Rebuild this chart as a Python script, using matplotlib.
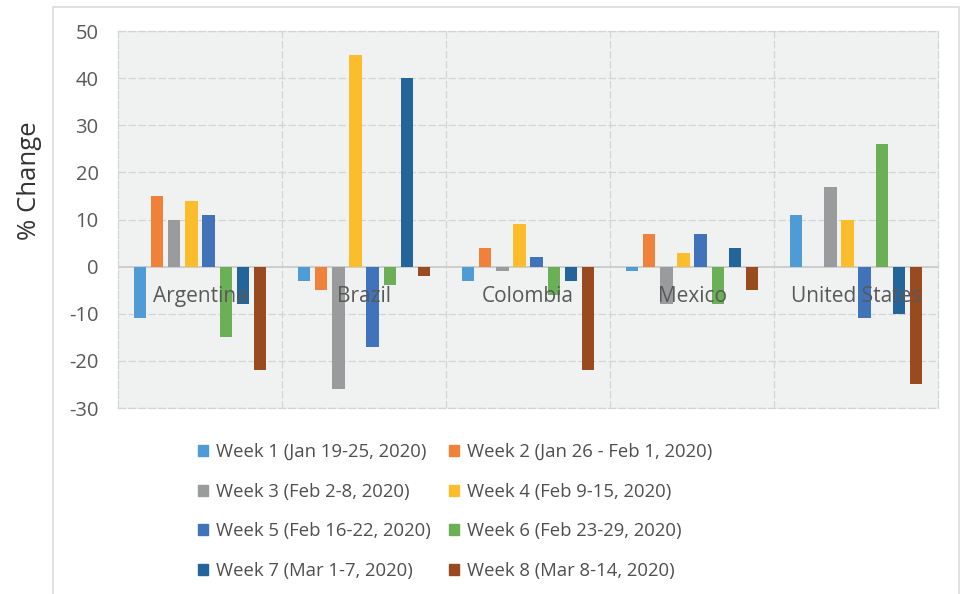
import matplotlib
matplotlib.use("Agg")
import matplotlib.pyplot as plt
import matplotlib.patches as mpatches
import numpy as np

plt.rcParams["font.family"] = ["Open Sans", "DejaVu Sans"]

countries = ["Argentina", "Brazil", "Colombia", "Mexico", "United States"]
weeks = [
    "Week 1 (Jan 19-25, 2020)",
    "Week 2 (Jan 26 - Feb 1, 2020)",
    "Week 3 (Feb 2-8, 2020)",
    "Week 4 (Feb 9-15, 2020)",
    "Week 5 (Feb 16-22, 2020)",
    "Week 6 (Feb 23-29, 2020)",
    "Week 7 (Mar 1-7, 2020)",
    "Week 8 (Mar 8-14, 2020)",
]
# one list per week, values for each country
week1 = [-11, -3, -3, -1, 11]
week2 = [15, -5, 4, 7, 0]
week3 = [10, -26, -1, -8, 17]
week4 = [14, 45, 9, 3, 10]
week5 = [11, -17, 2, 7, -11]
week6 = [-15, -4, -6, -8, 26]
week7 = [-8, 40, -3, 4, -10]
week8 = [-22, -2, -22, -5, -25]
yticks = [-30, -20, -10, 0, 10, 20, 30, 40, 50]

series = [week1, week2, week3, week4, week5, week6, week7, week8]
colors = ["#4e9bd5", "#f0813b", "#999b9c", "#fcbd2c",
          "#4173bb", "#6bb056", "#23649a", "#9a4a1f"]
text_col = "#595959"
grid_col = "#d4d4d4"

fig = plt.figure(figsize=(9.61, 5.94), dpi=100)
ax = fig.add_axes([0.1228, 0.3131, 0.8533, 0.6347])
ax.set_facecolor("#f0f1f1")

# marco exterior del grafico
frame = mpatches.Rectangle((53 / 961, -0.01), (959 - 53) / 961, 1 - 7 / 594 + 0.01,
                           transform=fig.transFigure, fill=False,
                           edgecolor="#dcdcdc", linewidth=1.2)
fig.patches.append(frame)

x = np.arange(len(countries))
step = 0.104
width = 0.074
for k, (vals, col) in enumerate(zip(series, colors)):
    ax.bar(x + (k - 3.5) * step, vals, width=width, color=col, zorder=3)

ax.set_xlim(-0.5, len(countries) - 0.5)
ax.set_ylim(-30, 50)
ax.set_yticks(yticks)
ax.set_yticklabels([str(t) for t in yticks], fontsize=14.5, color=text_col)
ax.set_xticks([])
ax.tick_params(axis="y", length=0, pad=14)

for t in yticks:
    if t == 0:
        continue
    ax.axhline(t, color=grid_col, linestyle=(0, (6, 2)), linewidth=0.9, zorder=1)
for xv in np.arange(0.5, len(countries) - 0.5, 1):
    ax.axvline(xv, color=grid_col, linestyle=(0, (6, 2)), linewidth=0.9, zorder=1)
ax.axhline(0, color="#c8c8c8", linewidth=1.2, zorder=2)

for sp in ax.spines.values():
    sp.set_color(grid_col)
    sp.set_linewidth(0.9)
    sp.set_linestyle((0, (6, 2)))

for i, c in enumerate(countries):
    ax.text(i, -6.3, c, ha="center", va="center", fontsize=15,
            color=text_col, zorder=5)

fig.text(0.031, 0.695, "% Change", rotation=90, ha="center", va="center",
         fontsize=18.5, color="#333333")

handles = [mpatches.Patch(color=c, label=w) for c, w in zip(colors, weeks)]
order = [0, 2, 4, 6, 1, 3, 5, 7]
fig.legend([handles[i] for i in order], [weeks[i] for i in order],
           ncol=2, loc="upper center", bbox_to_anchor=(0.4735, 0.282),
           frameon=False, fontsize=13.3, labelcolor="#4f4f4f",
           handlelength=0.55, handleheight=0.55, handletextpad=0.45,
           labelspacing=1.17, columnspacing=0.95)

fig.savefig("out.png", dpi=100)
